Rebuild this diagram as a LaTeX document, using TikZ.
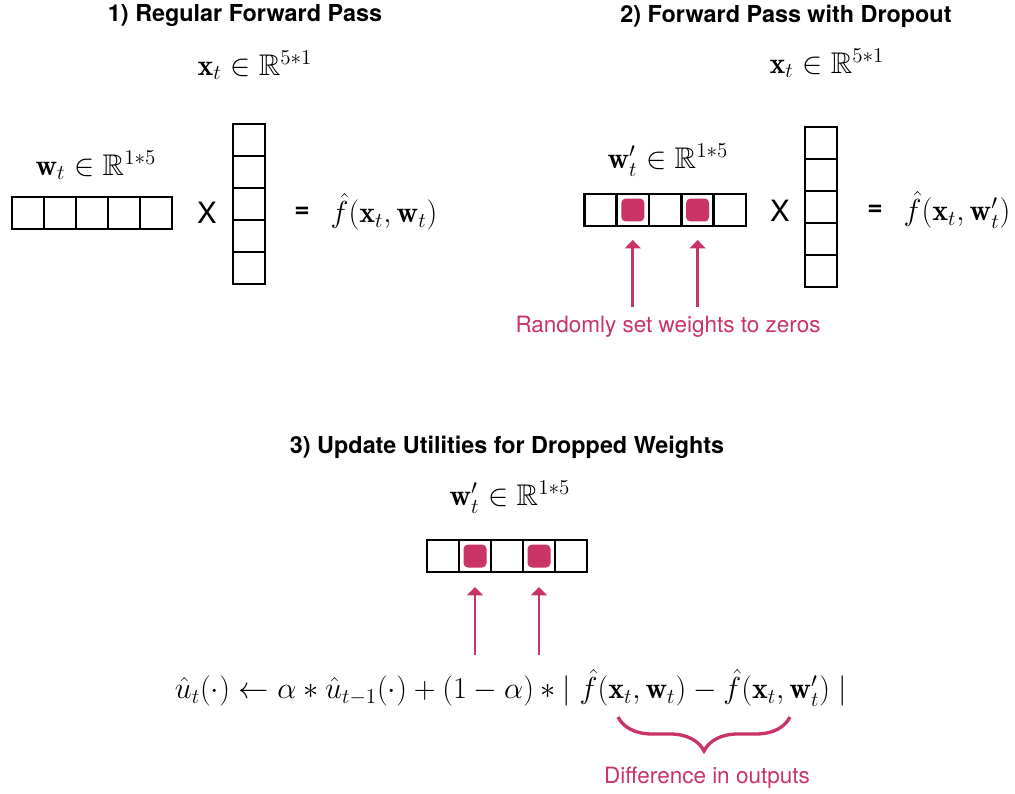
\documentclass[tikz,border=0pt]{standalone}
\usepackage{amsmath,amssymb}
\usepackage{fontspec}
\setsansfont{TeX Gyre Heros}
\usepackage{xcolor}
\usepackage{tikz}
\usetikzlibrary{arrows.meta,positioning,calc,decorations.pathreplacing}
\definecolor{dropred}{HTML}{C93366}

\begin{document}
\begin{tikzpicture}[
    x=0.02cm, y=-0.02cm,
    cell/.style={rectangle, draw=black, line width=1.3pt, minimum size=0.64cm, inner sep=0pt, outer sep=0pt},
    drop/.style={rectangle, fill=dropred, rounded corners=2.5pt, minimum size=0.46cm, inner sep=0pt},
    title/.style={font=\sffamily\bfseries\fontsize{13.3}{16}\selectfont},
    mth/.style={font=\fontsize{17}{20}\selectfont, inner sep=0pt},
    op/.style={font=\sffamily\fontsize{16.7}{20}\selectfont, inner sep=0pt},
    note/.style={font=\sffamily\fontsize{12.8}{15}\selectfont, text=dropred},
    arr/.style={-{Triangle[length=4.8pt, width=9pt]}, line width=1.6pt, color=dropred}
]
    \useasboundingbox (0,0) rectangle (1015,794);

    % 1) Regular forward pass
    \node[title] (title1) at (245,16) {1) Regular Forward Pass};
    \foreach \i in {1,...,5}
        \node[cell] (wa\i) at (32*\i-4,213) {};
    \foreach \i in {1,...,5}
        \node[cell] (xa\i) at (249,108+32*\i) {};
    \node[mth] (wlaba) at (96,165) {$\mathbf{w}_t \in \mathbb{R}^{1*5}$};
    \node[mth] (xlaba) at (255,65) {$\mathbf{x}_t \in \mathbb{R}^{5*1}$};
    \node[op] (timesa) at (207,213) {X};
    \node[op, font=\sffamily\bfseries\fontsize{15}{18}\selectfont] (eqa) at (302,212) {=};
    \node[mth] (outa) at (384,212) {$\hat{f}(\mathbf{x}_t, \mathbf{w}_t)$};

    % 2) Forward pass with dropout
    \node[title] (title2) at (786,16) {2) Forward Pass with Dropout};
    \foreach \i in {1,...,5}
        \node[cell] (wb\i) at (568+32.4*\i,210) {};
    \foreach \i in {1,...,5}
        \node[cell] (xb\i) at (821,111+32*\i) {};
    \node[drop] (db2) at (wb2) {};
    \node[drop] (db4) at (wb4) {};
    \node[mth] (wlabb) at (668,160) {$\mathbf{w}'_t \in \mathbb{R}^{1*5}$};
    \node[mth] (xlabb) at (827,63) {$\mathbf{x}_t \in \mathbb{R}^{5*1}$};
    \node[op] (timesb) at (780,211) {X};
    \node[op, font=\sffamily\bfseries\fontsize{15}{18}\selectfont] (eqb) at (875,210) {=};
    \node[mth] (outb) at (957,210) {$\hat{f}(\mathbf{x}_t, \mathbf{w}'_t)$};
    \node[note] (zero) at (668,327) {Randomly set weights to zeros};
    \draw[arr, shorten <=0.06cm, shorten >=0.28cm] (zero.north -| wb2) -- (wb2.south);
    \draw[arr, shorten <=0.06cm, shorten >=0.28cm] (zero.north -| wb4) -- (wb4.south);

    % 3) Update utilities
    \node[title] (title3) at (507,447) {3) Update Utilities for Dropped Weights};
    \foreach \i in {1,...,5}
        \node[cell] (wc\i) at (411+32*\i,556) {};
    \node[drop] (dc2) at (wc2) {};
    \node[drop] (dc4) at (wc4) {};
    \node[mth] (wlabc) at (510,497) {$\mathbf{w}'_t \in \mathbb{R}^{1*5}$};
    \node[mth, inner sep=3pt] (upd) at (511,688)
        {$\hat{u}_t(\cdot) \leftarrow \alpha * \hat{u}_{t-1}(\cdot) + (1-\alpha) * |\; \hat{f}(\mathbf{x}_t, \mathbf{w}_t) - \hat{f}(\mathbf{x}_t, \mathbf{w}'_t)\; |$};
    \draw[arr, shorten <=0.18cm, shorten >=0.3cm] (upd.north -| wc2) -- (wc2.south);
    \draw[arr, shorten <=0.18cm, shorten >=0.3cm] (upd.north -| wc4) -- (wc4.south);

    % brace under the difference
    \coordinate (brr) at (790,717);
    \coordinate (brl) at (618,717);
    \draw[decorate, decoration={brace, amplitude=0.68cm}, dropred, line width=1.9pt] (brr) -- (brl);
    \node[note] (diff) at (707,778) {Difference in outputs};

\end{tikzpicture}
\end{document}
